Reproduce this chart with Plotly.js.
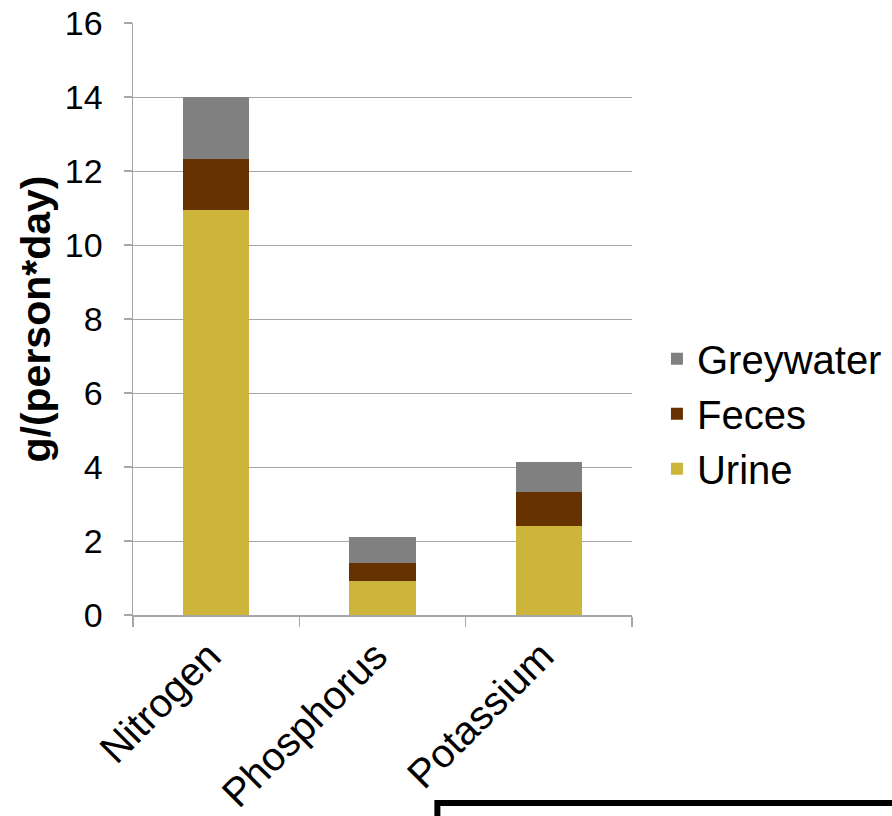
<!DOCTYPE html>
<html>
<head>
<meta charset="utf-8">
<script src="https://cdn.plot.ly/plotly-3.0.1.min.js"></script>
<style>html,body{margin:0;padding:0;background:#fff;}#chart{width:892px;height:816px;}</style>
</head>
<body>
<div id="chart"></div>
<script>
const categories = ["Nitrogen", "Phosphorus", "Potassium"];
const urine = [10.95, 0.92, 2.41];
const feces = [1.37, 0.49, 0.91];
const greywater = [1.68, 0.70, 0.82];
const yTicks = [0, 2, 4, 6, 8, 10, 12, 14, 16];

const fontFam = "Liberation Sans, Arial, sans-serif";
const traces = [
  {type: "bar", name: "Urine", x: categories, y: urine, marker: {color: "#CDB43B"}},
  {type: "bar", name: "Feces", x: categories, y: feces, marker: {color: "#663300"}},
  {type: "bar", name: "Greywater", x: categories, y: greywater, marker: {color: "#808080"}}
];

const layout = {
  width: 892, height: 816,
  margin: {l: 133, r: 260, t: 23, b: 201, autoexpand: false},
  barmode: "stack",
  bargap: 0.6,
  paper_bgcolor: "#fff", plot_bgcolor: "#fff",
  font: {family: fontFam, color: "#000"},
  xaxis: {
    showline: true, linecolor: "#a6a6a6", linewidth: 1.5,
    ticks: "outside", tickson: "boundaries", ticklen: 10, tickcolor: "#a6a6a6", tickwidth: 1.5,
    ticklabelshift: -7, ticklabelstandoff: 0,
    tickangle: -45, tickfont: {size: 40, family: fontFam}, showgrid: false
  },
  yaxis: {
    range: [0, 16], tickvals: yTicks, ticktext: yTicks.map(String),
    showline: true, linecolor: "#a6a6a6", linewidth: 1.5,
    ticks: "outside", ticklen: 8, tickcolor: "#a6a6a6", tickwidth: 1.5,
    ticklabelstandoff: 14,
    gridcolor: "#a6a6a6", gridwidth: 1, zeroline: false,
    tickfont: {size: 34, family: fontFam},
    title: {text: "<b>g/(person*day)</b>", font: {size: 41, family: fontFam}, standoff: 1}
  },
  legend: {
    x: 1.05, xanchor: "left", y: 0.34, yanchor: "middle",
    traceorder: "reversed", font: {size: 40, family: fontFam},
    itemwidth: 30, tracegroupgap: 0
  },
  shapes: [
    {type: "rect", xref: "paper", yref: "paper", x0: 0.61, x1: 1.7, y0: -0.3176, y1: -0.6,
     line: {color: "#000", width: 6}, fillcolor: "rgba(0,0,0,0)"}
  ]
};

Plotly.newPlot("chart", traces, layout, {displayModeBar: false, staticPlot: true});
</script>
</body>
</html>
